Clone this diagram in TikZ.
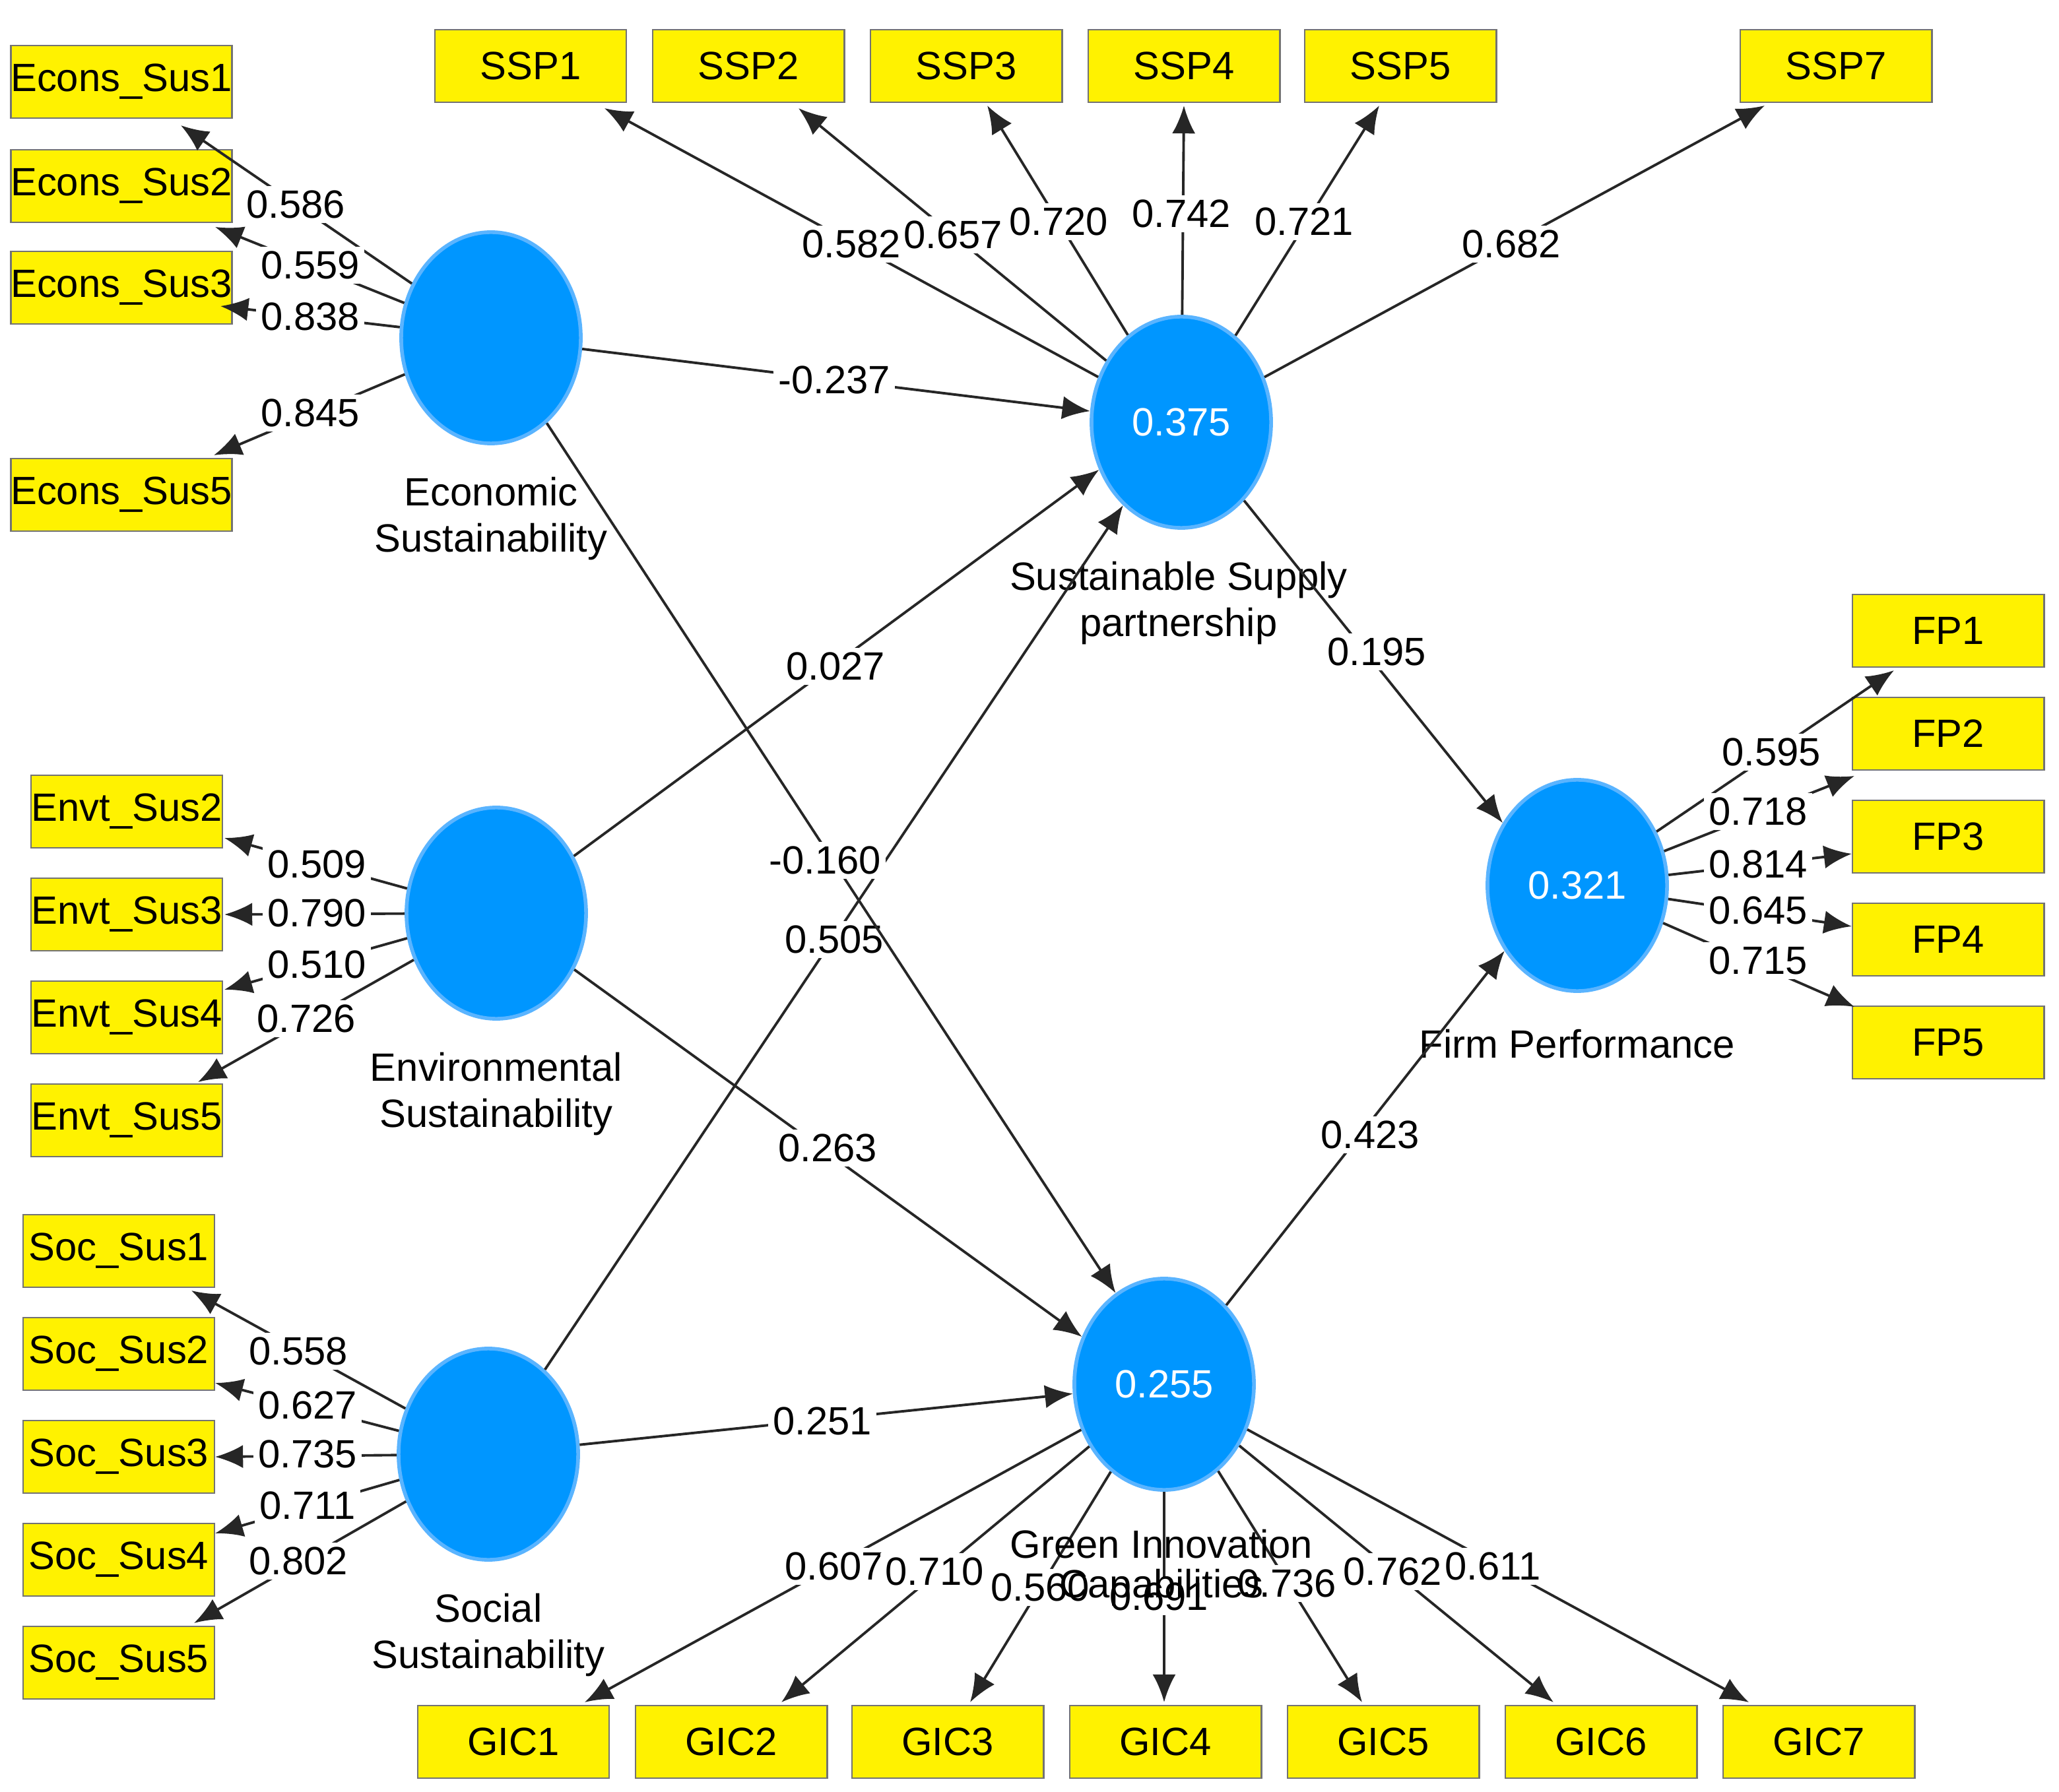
\documentclass[tikz,border=0pt]{standalone}
\usepackage{fontspec}
\setmainfont{Liberation Sans}
\usetikzlibrary{arrows.meta,shapes.geometric}
\begin{document}
\begin{tikzpicture}[x=0.01cm,y=-0.01cm,font=\fontsize{8.5}{10}\selectfont,
 box/.style={draw=black!55,fill=yellow,minimum width=1.45cm,minimum height=0.55cm,inner sep=0pt},
 lv/.style={ellipse,fill={rgb,255:red,0;green,150;blue,255},draw={rgb,255:red,90;green,180;blue,255},line width=0.8pt,minimum width=1.36cm,minimum height=1.6cm,inner sep=0pt,text=white},
 arr/.style={draw=black!85,line width=0.55pt,-{Latex[length=6pt,width=5pt]}},
 lb/.style={fill=white,inner sep=1pt},
 lvcap/.style={align=center}]
\useasboundingbox (0,0) rectangle (1560,1358);
% latent variables
\foreach \n/\x/\y/\t in {ec/372/256/,ssp/895/320/0.375,env/376/692/,fp/1195/671/0.321,soc/370/1102/,gic/882/1049/0.255}
  \node[lv] (\n) at (\x,\y) {\t};
\node[lvcap] (ecl) at (372,393) {Economic\\Sustainability};
\node[lvcap] (sspl) at (893,457) {Sustainable Supply\\partnership};
\node[lvcap] (envl) at (376,829) {Environmental\\Sustainability};
\node[lvcap] (fpl) at (1195,791) {Firm Performance};
\node[lvcap] (socl) at (370,1239) {Social\\Sustainability};
% boxes
\foreach \n/\x/\y/\t in {e1/92/62/Econs\_Sus1,e2/92/141/Econs\_Sus2,e3/92/218/Econs\_Sus3,e5/92/375/Econs\_Sus5,
 s1/402/50/SSP1,s2/567/50/SSP2,s3/732/50/SSP3,s4/897/50/SSP4,s5/1061/50/SSP5,s7/1391/50/SSP7,
 v2/96/615/Envt\_Sus2,v3/96/693/Envt\_Sus3,v4/96/771/Envt\_Sus4,v5/96/849/Envt\_Sus5,
 o1/90/948/Soc\_Sus1,o2/90/1026/Soc\_Sus2,o3/90/1104/Soc\_Sus3,o4/90/1182/Soc\_Sus4,o5/90/1260/Soc\_Sus5,
 f1/1476/478/FP1,f2/1476/556/FP2,f3/1476/634/FP3,f4/1476/712/FP4,f5/1476/790/FP5,
 g1/389/1320/GIC1,g2/554/1320/GIC2,g3/718/1320/GIC3,g4/883/1320/GIC4,g5/1048/1320/GIC5,g6/1213/1320/GIC6,g7/1378/1320/GIC7}
  \node[box] (\n) at (\x,\y) {\t};
% loadings
\foreach \s/\ex/\ey/\l/\lx/\ly in {
 ec/137/95/0.586/224/155, ec/163/172/0.559/235/201, ec/167/232/0.838/235/240, ec/162/345/0.845/235/313,
 ssp/458/82/0.582/645/185, ssp/605/82/0.657/722/178, ssp/748/80/0.720/802/168, ssp/897/80/0.742/895/162, ssp/1045/80/0.721/988/168, ssp/1337/80/0.682/1145/185,
 env/170/635/0.509/240/655, env/170/693/0.790/240/692, env/170/750/0.510/240/731, env/150/820/0.726/232/772,
 soc/145/978/0.558/226/1024, soc/163/1048/0.627/233/1065, soc/163/1104/0.735/233/1102, soc/163/1162/0.711/233/1141, soc/147/1230/0.802/226/1183,
 fp/1435/508/0.595/1342/570, fp/1405/588/0.718/1332/615, fp/1403/647/0.814/1332/655, fp/1403/702/0.645/1332/690, fp/1405/763/0.715/1332/728,
 gic/443/1290/0.607/632/1187, gic/592/1290/0.710/708/1191, gic/735/1290/0.560/788/1203, gic/882/1290/0.691/878/1210, gic/1032/1290/0.736/975/1200, gic/1177/1290/0.762/1055/1191, gic/1325/1290/0.611/1131/1187}
 { \draw[arr] (\s) -- (\ex,\ey); \node[lb] at (\lx,\ly) {\l}; }
% structural paths
\draw[arr] (ec) -- (ssp); \node[lb] at (632,288) {-0.237};
\draw[arr] (env) -- (ssp.210); \node[lb] at (633,505) {0.027};
\draw[arr] (soc) -- (ssp.235); \node[lb] at (632,712) {0.505};
\draw[arr] (ec) -- (gic.118); \node[lb] at (625,652) {-0.160};
\draw[arr] (env) -- (gic.150); \node[lb] at (627,870) {0.263};
\draw[arr] (soc) -- (gic); \node[lb] at (623,1077) {0.251};
\draw[arr] (ssp) -- (fp.140); \node[lb] at (1043,494) {0.195};
\draw[arr] (gic) -- (fp.222); \node[lb] at (1038,860) {0.423};
\node (gicl) at (880,1170) {Green Innovation};
\node (gicl2) at (880,1203) {Capabilities};
\end{tikzpicture}
\end{document}
